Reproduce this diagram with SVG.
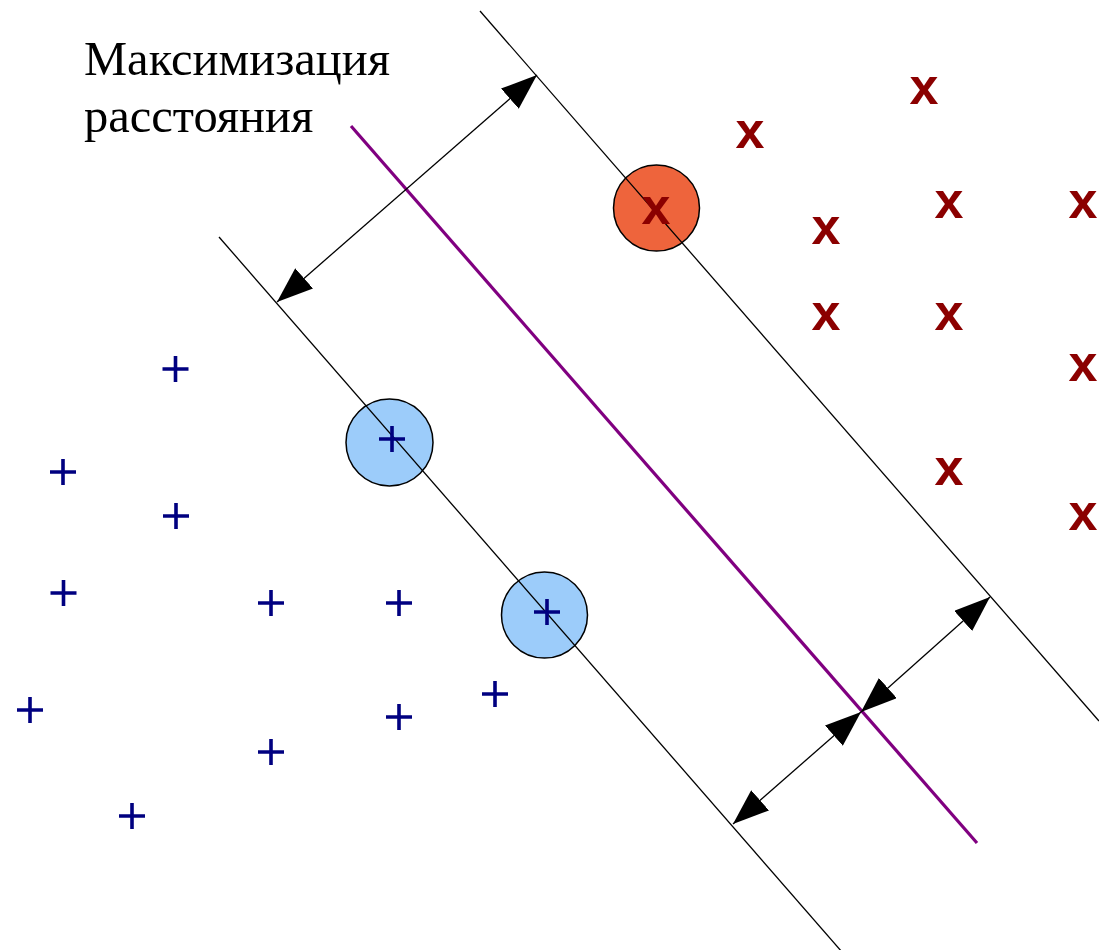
<svg xmlns="http://www.w3.org/2000/svg" width="1099" height="950" viewBox="0 0 1099 950">
<style>
.thin{stroke:#000;stroke-width:1.3;fill:none}
.hyp{stroke:#800080;stroke-width:3.2;fill:none}
.dim{stroke:#000;stroke-width:1.3;fill:none;marker-start:url(#ah);marker-end:url(#ah)}
.plus{stroke:#000080;stroke-width:3.6;fill:none}
.xm{font-family:"Liberation Sans",Arial,sans-serif;font-weight:bold;font-size:52px;fill:#8B0000;text-anchor:middle}
.lbl{font-family:"Liberation Serif","Times New Roman",serif;font-size:48.5px;fill:#000}
.sv{stroke:#000;stroke-width:1.5}
</style>
<defs>
<marker id="ah" viewBox="0 0 36 27" refX="36" refY="13.5" markerWidth="36" markerHeight="27" markerUnits="userSpaceOnUse" orient="auto-start-reverse">
<path d="M0,0 L36,13.5 L0,27 z" fill="#000"/>
</marker>
<path id="p" d="M-13,0 H13 M0,-13 V13"/>
</defs>
<rect width="1099" height="950" fill="#fff"/>
<g id="label">
<text class="lbl" x="84" y="75">Максимизация</text>
<text class="lbl" x="84" y="132">расстояния</text>
</g>
<g id="sv-red"><circle class="sv" cx="656.5" cy="208" r="43" fill="#EE643C"/></g>
<g id="sv-blue1"><circle class="sv" cx="389.5" cy="442.5" r="43.5" fill="#9CCCFA"/></g>
<g id="sv-blue2"><circle class="sv" cx="544.5" cy="615" r="43" fill="#9CCCFA"/></g>
<g id="connectors">
<line class="thin" x1="480" y1="11" x2="1099" y2="721"/>
<line class="thin" x1="219" y1="237" x2="842" y2="952"/>
<line class="hyp" x1="351" y1="126" x2="977" y2="843"/>
<line class="dim" x1="537" y1="75" x2="277" y2="302"/>
<line class="dim" x1="990" y1="597" x2="861" y2="712"/>
<line class="dim" x1="861" y1="712" x2="733" y2="824"/>
</g>
<g id="class-plus" class="plus">
<use href="#p" x="392" y="439"/>
<use href="#p" x="547" y="612"/>
<use href="#p" x="175.5" y="369"/>
<use href="#p" x="63" y="472"/>
<use href="#p" x="176" y="516"/>
<use href="#p" x="63.5" y="593"/>
<use href="#p" x="271" y="603"/>
<use href="#p" x="399" y="603"/>
<use href="#p" x="30" y="710"/>
<use href="#p" x="399" y="717"/>
<use href="#p" x="495" y="694"/>
<use href="#p" x="271" y="752"/>
<use href="#p" x="132" y="816"/>
</g>
<g id="class-x">
<text class="xm" x="656" y="224">x</text>
<text class="xm" x="924" y="104">x</text>
<text class="xm" x="750" y="148">x</text>
<text class="xm" x="949" y="218">x</text>
<text class="xm" x="1083" y="218">x</text>
<text class="xm" x="826" y="244">x</text>
<text class="xm" x="826" y="330">x</text>
<text class="xm" x="949" y="330">x</text>
<text class="xm" x="1083" y="381">x</text>
<text class="xm" x="949" y="485">x</text>
<text class="xm" x="1083" y="530">x</text>
</g>
</svg>
